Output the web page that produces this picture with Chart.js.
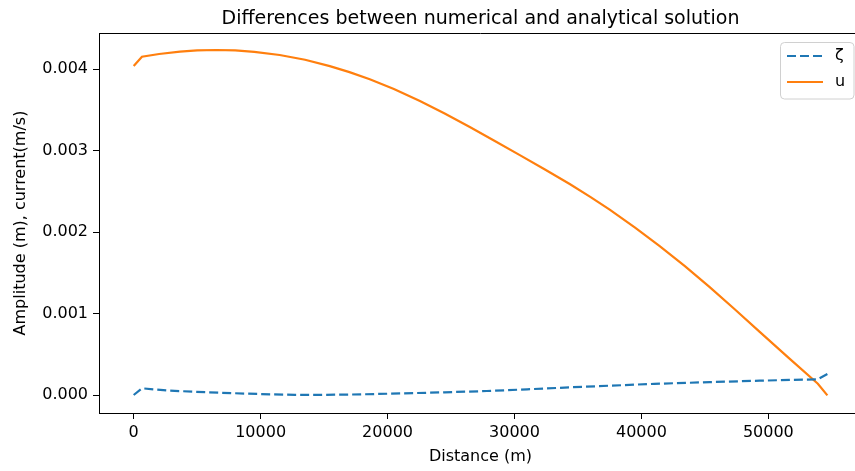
<!DOCTYPE html>
<html>
<head>
<meta charset="utf-8">
<script src="https://cdn.jsdelivr.net/npm/chart.js@4.4.1/dist/chart.umd.min.js"></script>
<style>
  html, body { margin: 0; padding: 0; overflow: hidden; background: #fff; }
  #wrap { width: 863px; height: 471px; position: relative; }
</style>
</head>
<body>
<div id="wrap"><canvas id="c" width="863" height="471"></canvas></div>
<script>
// Surface elevation error (zeta) along the channel
const distanceZeta = [0, 650, 2870, 4800, 6810, 8800, 10750, 12700, 14670, 17900, 21200, 24500, 27820, 31000, 34350, 41000, 45380, 49320, 53900, 54650];
const zeta        = [0, 0.000082, 0.000053, 0.00004, 0.000028, 0.000017, 0.0000086, 0.000002, 0.000001, 0.000008, 0.00002, 0.000033, 0.000049, 0.00007, 0.000094, 0.000137, 0.000158, 0.000176, 0.000193, 0.000258];

// Current error (u) along the channel
const distanceU = [0, 650, 2000, 3650, 5000, 6500, 8000, 9500, 11500, 13500, 15450, 17000, 18600, 20500, 22550, 24500, 26480, 28450, 30420, 32400, 34350, 36000, 37500, 39500, 41440, 43400, 45380, 47350, 49320, 51600, 53900, 54650];
const u         = [0.00404, 0.004155, 0.004188, 0.004217, 0.004232, 0.004237, 0.004232, 0.004215, 0.004176, 0.004117, 0.004039, 0.003965, 0.003877, 0.003759, 0.003611, 0.003457, 0.003291, 0.00312, 0.002946, 0.00277, 0.002591, 0.002431, 0.002276, 0.002056, 0.001829, 0.001586, 0.001325, 0.001053, 0.000775, 0.000456, 0.000139, -0.000005];

const xTicks = [0, 10000, 20000, 30000, 40000, 50000];
const yTicks = [0, 0.001, 0.002, 0.003, 0.004];

const titleText = 'Differences between numerical and analytical solution';
const xLabel = 'Distance (m)';
const yLabel = 'Amplitude (m), current(m/s)';
const seriesNames = ['ζ', 'u'];

const BLUE = '#1f77b4';
const ORANGE = '#ff7f0e';
const FONT = '"DejaVu Sans", sans-serif';

const pts = (xs, ys) => xs.map((x, i) => ({ x: x, y: ys[i] }));

// Title, axis labels, top spine and the legend box
const decorations = {
  id: 'decorations',
  afterDraw(chart) {
    const { ctx, chartArea: a } = chart;
    ctx.save();
    ctx.strokeStyle = '#000';
    ctx.lineWidth = 1;
    ctx.beginPath();
    ctx.moveTo(a.left, a.top + 0.5);
    ctx.lineTo(a.right, a.top + 0.5);
    ctx.stroke();

    const cx = (a.left + a.right) / 2;
    ctx.fillStyle = '#000';
    ctx.textAlign = 'center';
    ctx.textBaseline = 'alphabetic';
    ctx.font = '19px ' + FONT;
    ctx.fillText(titleText, cx, 24);

    ctx.font = '16px ' + FONT;
    ctx.textBaseline = 'middle';
    ctx.fillText(xLabel, cx, 457);

    ctx.save();
    ctx.translate(21, (a.top + a.bottom) / 2);
    ctx.rotate(-Math.PI / 2);
    ctx.fillText(yLabel, 0, 0);
    ctx.restore();

    // legend
    const bx = 780.5, by = 42.5, bw = 73.5, bh = 56.5, r = 4;
    ctx.beginPath();
    ctx.moveTo(bx + r, by);
    ctx.lineTo(bx + bw - r, by);
    ctx.arcTo(bx + bw, by, bx + bw, by + r, r);
    ctx.lineTo(bx + bw, by + bh - r);
    ctx.arcTo(bx + bw, by + bh, bx + bw - r, by + bh, r);
    ctx.lineTo(bx + r, by + bh);
    ctx.arcTo(bx, by + bh, bx, by + bh - r, r);
    ctx.lineTo(bx, by + r);
    ctx.arcTo(bx, by, bx + r, by, r);
    ctx.closePath();
    ctx.fillStyle = 'rgba(255,255,255,0.8)';
    ctx.fill();
    ctx.strokeStyle = '#d0d0d0';
    ctx.lineWidth = 1;
    ctx.stroke();

    const rows = [
      { y: 56, color: BLUE, dash: [9, 4], name: seriesNames[0] },
      { y: 82, color: ORANGE, dash: [], name: seriesNames[1] }
    ];
    rows.forEach(rw => {
      ctx.strokeStyle = rw.color;
      ctx.lineWidth = 2.2;
      ctx.setLineDash(rw.dash);
      ctx.beginPath();
      ctx.moveTo(787, rw.y);
      ctx.lineTo(823, rw.y);
      ctx.stroke();
      ctx.setLineDash([]);
      ctx.fillStyle = '#000';
      ctx.textAlign = 'left';
      ctx.textBaseline = 'middle';
      ctx.font = '16px ' + FONT;
      ctx.fillText(rw.name, 835, rw.y);
    });
    ctx.restore();
  }
};

new Chart(document.getElementById('c'), {
  type: 'line',
  data: {
    datasets: [
      {
        label: seriesNames[0],
        data: pts(distanceZeta, zeta),
        borderColor: BLUE,
        borderWidth: 2.2,
        borderDash: [9, 4],
        pointRadius: 0,
        fill: false,
        tension: 0
      },
      {
        label: seriesNames[1],
        data: pts(distanceU, u),
        borderColor: ORANGE,
        borderWidth: 2.2,
        pointRadius: 0,
        fill: false,
        tension: 0
      }
    ]
  },
  options: {
    responsive: false,
    animation: false,
    devicePixelRatio: 1,
    layout: { padding: { left: 0, right: 1, top: 33, bottom: 0 } },
    plugins: { legend: { display: false }, title: { display: false }, tooltip: { enabled: false } },
    scales: {
      x: {
        type: 'linear',
        min: -2733,
        max: 57378,
        afterBuildTicks: s => { s.ticks = xTicks.map(v => ({ value: v })); },
        afterFit: s => { s.height = 58; },
        grid: { drawOnChartArea: false, drawTicks: true, tickLength: 6, color: '#000', tickWidth: 1 },
        border: { display: true, color: '#000', width: 1 },
        ticks: {
          color: '#000',
          font: { family: FONT, size: 16 },
          padding: 4,
          maxRotation: 0,
          callback: v => Number(v).toFixed(0)
        }
      },
      y: {
        type: 'linear',
        min: -0.000221,
        max: 0.004446,
        afterBuildTicks: s => { s.ticks = yTicks.map(v => ({ value: v })); },
        afterFit: s => { s.width = 99; },
        grid: { drawOnChartArea: false, drawTicks: true, tickLength: 6, color: '#000', tickWidth: 1 },
        border: { display: true, color: '#000', width: 1 },
        ticks: {
          color: '#000',
          font: { family: FONT, size: 16 },
          padding: 5,
          callback: v => Number(v).toFixed(3)
        }
      }
    }
  },
  plugins: [decorations]
});
</script>
</body>
</html>
